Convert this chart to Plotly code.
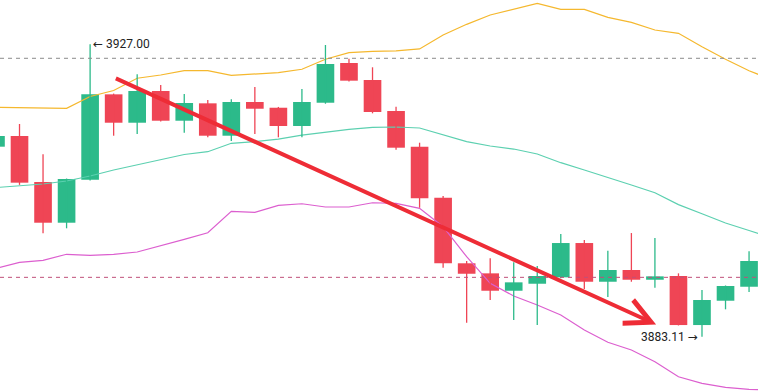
import plotly.graph_objects as go

idx = list(range(33))
opens = [3911.63, 3913.24, 3906.33, 3900.22, 3906.68, 3919.49, 3915.23, 3919.99, 3915.53, 3918.14,
         3913.28, 3918.34, 3917.48, 3914.74, 3918.23, 3924.19, 3921.64, 3916.99, 3911.63, 3903.97,
         3894.13, 3892.62, 3890.01, 3891.06, 3892.02, 3897.17, 3891.36, 3893.12, 3891.66, 3892.22,
         3884.86, 3888.51, 3890.61]
highs = [3914.20, 3915.04, 3910.49, 3906.85, 3927.00, 3919.60, 3922.50, 3920.89, 3919.54, 3918.64,
         3918.74, 3920.59, 3917.60, 3920.29, 3926.90, 3924.84, 3923.55, 3917.63, 3912.23, 3904.23,
         3894.47, 3894.88, 3894.28, 3893.72, 3898.52, 3897.62, 3896.02, 3898.67, 3897.92, 3892.62,
         3890.12, 3890.80, 3895.93]
lows = [3911.00, 3905.90, 3898.63, 3899.38, 3906.55, 3913.28, 3913.54, 3915.40, 3913.73, 3913.04,
        3912.48, 3913.54, 3913.04, 3913.04, 3918.08, 3921.40, 3916.64, 3911.18, 3902.47, 3893.46,
        3885.21, 3888.62, 3885.61, 3884.86, 3891.90, 3890.27, 3889.07, 3891.36, 3890.46, 3884.80,
        3883.11, 3887.22, 3889.82]
closes = [3913.24, 3906.23, 3900.22, 3906.78, 3919.49, 3915.23, 3919.99, 3915.53, 3918.19, 3913.28,
          3918.34, 3917.33, 3914.74, 3918.34, 3924.04, 3921.54, 3916.84, 3911.48, 3903.88, 3894.13,
          3892.56, 3890.01, 3891.27, 3892.22, 3897.17, 3891.36, 3893.12, 3891.66, 3892.17, 3884.86,
          3888.62, 3890.72, 3894.47]

band_idx = list(range(34))
upper = [3917.54, 3917.48, 3917.44, 3917.39, 3919.16, 3920.06, 3921.90, 3922.39, 3923.04, 3923.04,
         3922.35, 3922.54, 3922.74, 3923.25, 3924.75, 3925.74, 3925.95, 3926.00, 3926.30, 3928.40,
         3930.00, 3931.40, 3932.25, 3933.15, 3932.25, 3932.25, 3931.05, 3930.30, 3929.15, 3928.65,
         3926.64, 3924.75, 3923.04, 3921.64]
middle = [3905.50, 3905.73, 3906.03, 3906.48, 3907.23, 3908.13, 3908.88, 3909.63, 3910.46, 3910.88,
          3912.14, 3912.38, 3912.78, 3913.38, 3913.84, 3914.24, 3914.54, 3914.59, 3914.44, 3913.38,
          3912.38, 3911.73, 3911.28, 3910.53, 3909.23, 3908.13, 3907.04, 3905.88, 3904.72, 3902.94,
          3901.56, 3900.18, 3899.05, 3897.92]
lower = [3893.34, 3894.27, 3894.57, 3895.48, 3895.33, 3895.48, 3895.82, 3896.72, 3897.73, 3898.72,
         3901.93, 3901.78, 3902.83, 3903.07, 3902.58, 3902.58, 3903.22, 3903.13, 3902.38, 3899.62,
         3895.12, 3891.12, 3889.22, 3887.87, 3886.37, 3884.11, 3882.27, 3881.11, 3879.36, 3877.10,
         3876.11, 3875.51, 3875.21, 3875.11]

level_upper = 3924.90
level_lower = 3892.02
high_value = "3927.00"
low_value = "3883.11"
high_point = (4, 3927.00)
low_point = (30, 3883.11)
trend_start = (5.03, 3921.99)
trend_end = (28.05, 3884.95)

GREEN = "#2cba8a"
RED = "#ef4555"
ARROW_SPAN = '<span style="font-family:DejaVu Sans;font-size:12px">{}</span>'

up = [c >= o for o, c in zip(opens, closes)]
colors = [GREEN if u else RED for u in up]

fig = go.Figure()
fig.add_trace(go.Scatter(x=band_idx, y=upper, mode="lines", line=dict(color="#f5b82e", width=1.2), hoverinfo="skip"))
fig.add_trace(go.Scatter(x=band_idx, y=middle, mode="lines", line=dict(color="#5cd0b0", width=1.2), hoverinfo="skip"))
fig.add_trace(go.Scatter(x=band_idx, y=lower, mode="lines", line=dict(color="#dc5fcf", width=1.2), hoverinfo="skip"))

for flag, col in ((True, GREEN), (False, RED)):
    wx, wy = [], []
    for i, u in enumerate(up):
        if u == flag:
            wx += [idx[i], idx[i], None]
            wy += [lows[i], highs[i], None]
    fig.add_trace(go.Scatter(x=wx, y=wy, mode="lines", line=dict(color=col, width=1.3), hoverinfo="skip"))

fig.add_trace(go.Bar(
    x=idx,
    y=[abs(c - o) for o, c in zip(opens, closes)],
    base=[min(o, c) for o, c in zip(opens, closes)],
    width=0.75,
    marker=dict(color=colors, line=dict(width=0)),
    hoverinfo="skip",
))

fig.add_hline(y=level_upper, line=dict(color="#8a8a8a", width=1, dash="4px,4px"))
fig.add_hline(y=level_lower, line=dict(color="#c0507a", width=1, dash="4px,4px"))

fig.add_annotation(x=high_point[0], y=high_point[1], text=ARROW_SPAN.format("←") + " " + high_value,
                   showarrow=False, xanchor="left", yanchor="middle", xshift=1,
                   font=dict(family="Roboto, Arial, sans-serif", size=12, color="#222222"))
fig.add_annotation(x=low_point[0], y=low_point[1], text=low_value + " " + ARROW_SPAN.format("→"),
                   showarrow=False, xanchor="right", yanchor="middle", xshift=-2,
                   font=dict(family="Roboto, Arial, sans-serif", size=12, color="#222222"))
fig.add_annotation(x=trend_end[0], y=trend_end[1], ax=trend_start[0], ay=trend_start[1],
                   xref="x", yref="y", axref="x", ayref="y", text="", showarrow=True,
                   arrowhead=5, arrowsize=1.25, arrowwidth=4, arrowcolor="#ee2c36", standoff=0)

fig.update_layout(
    width=758, height=392, margin=dict(l=0, r=0, t=0, b=0),
    paper_bgcolor="white", plot_bgcolor="white", showlegend=False,
    barmode="overlay",
    xaxis=dict(range=[0.171, 32.38], visible=False, fixedrange=True),
    yaxis=dict(range=[3874.81, 3933.65], visible=False, fixedrange=True),
)
fig.write_html("out.html", config=dict(displayModeBar=False))
